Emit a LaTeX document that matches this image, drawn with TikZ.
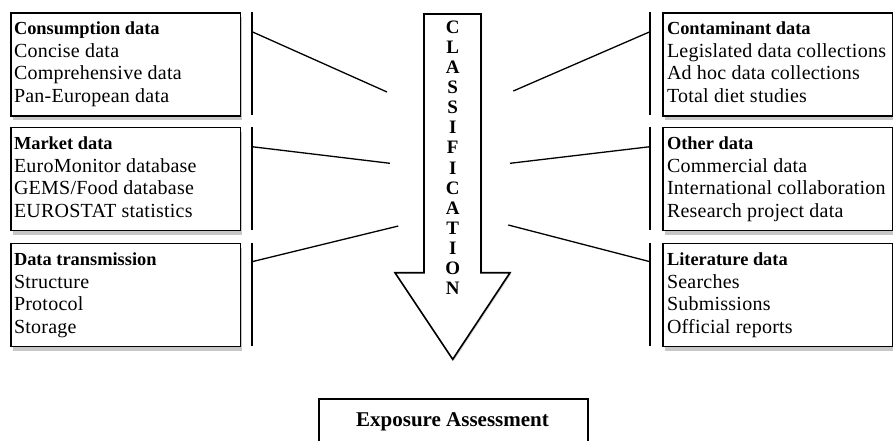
\documentclass[tikz,border=0pt]{standalone}
\usepackage{fontspec}
\setmainfont{Liberation Serif}[LetterSpace=1.2]
\newfontfamily\plainf{Liberation Serif}
\usetikzlibrary{shadows}
\tikzset{
  databox/.style={draw, line width=1.6pt, fill=white, anchor=north west,
    minimum width=229.5pt, minimum height=103pt, inner sep=0pt,
    drop shadow={shadow xshift=2pt, shadow yshift=-4.5pt, fill=black!22, opacity=1}},
  boxtext/.style={anchor=north west, align=left, inner sep=0pt,
    font=\fontsize{20}{22.5}\selectfont},
  bar/.style={line width=1.6pt},
  link/.style={line width=1.3pt},
  letter/.style={anchor=base, inner sep=0pt, font=\plainf\bfseries\fontsize{19}{19}\selectfont},
}
\newcommand{\hdr}[1]{{\plainf\bfseries\fontsize{18.4}{22.5}\selectfont #1}}
\begin{document}
\begin{tikzpicture}[x=1pt,y=-1pt]
\useasboundingbox (0,0) rectangle (893,440);
\clip (0,0) rectangle (893,440);
\fill[white] (0,0) rectangle (893,440);

% left boxes
\node[databox] (cons) at (10,12) {};
\node[databox] (mark) at (10,126.7) {};
\node[databox] (trans) at (10,242.7) {};
% right boxes
\node[databox, minimum width=230pt] (cont) at (662.3,12) {};
\node[databox, minimum width=230pt] (other) at (662.3,126.7) {};
\node[databox, minimum width=230pt] (lit) at (662.3,242.7) {};

\node[boxtext] (cons-t) at ([xshift=3.8pt, yshift=-10pt]cons.north west)
  {\hdr{Consumption data}\\Concise data\\Comprehensive data\\Pan-European data};
\node[boxtext] (mark-t) at ([xshift=3.8pt, yshift=-10pt]mark.north west)
  {\hdr{Market data}\\EuroMonitor database\\GEMS/Food database\\EUROSTAT statistics};
\node[boxtext] (trans-t) at ([xshift=3.8pt, yshift=-10pt]trans.north west)
  {\hdr{Data transmission}\\Structure\\Protocol\\Storage};
\node[boxtext] (cont-t) at ([xshift=4.5pt, yshift=-10pt]cont.north west)
  {\hdr{Contaminant data}\\Legislated data collections\\Ad hoc data collections\\Total diet studies};
\node[boxtext] (other-t) at ([xshift=4.5pt, yshift=-10pt]other.north west)
  {\hdr{Other data}\\Commercial data\\International collaboration\\Research project data};
\node[boxtext] (lit-t) at ([xshift=4.5pt, yshift=-10pt]lit.north west)
  {\hdr{Literature data}\\Searches\\Submissions\\Official reports};

% bars
\coordinate (lb1t) at (252,12);    \coordinate (lb1b) at (252,115);
\coordinate (lb2t) at (252,126.7); \coordinate (lb2b) at (252,230);
\coordinate (lb3t) at (252,242.7); \coordinate (lb3b) at (252,346);
\coordinate (rb1t) at (650,12);    \coordinate (rb1b) at (650,115);
\coordinate (rb2t) at (650,126.7); \coordinate (rb2b) at (650,230);
\coordinate (rb3t) at (650,242.7); \coordinate (rb3b) at (650,346);
\foreach \b in {lb1,lb2,lb3,rb1,rb2,rb3} \draw[bar] (\b t) -- (\b b);

% arrow
\draw[line width=1.6pt, fill=white,
  drop shadow={shadow xshift=1pt, shadow yshift=-1.5pt, fill=black!18, opacity=1}]
  (424,14) -- (481,14) -- (481,272.7) -- (510,272.7) -- (452.7,359.3)
  -- (395,272.7) -- (424,272.7) -- cycle;
\foreach \ch [count=\i from 0] in {C,L,A,S,S,I,F,I,C,A,T,I,O,N}
  \node[letter] (cls\i) at (452.7, 33.3+20.1*\i) {\ch};

% connectors
\coordinate (l1) at (252,31.7);  \coordinate (l1e) at (387,92);
\coordinate (l2) at (252,146.7); \coordinate (l2e) at (390,163.3);
\coordinate (l3) at (252,261.7); \coordinate (l3e) at (398.3,226);
\coordinate (r1) at (650,31.7);  \coordinate (r1e) at (513.3,91);
\coordinate (r2) at (650,146.7); \coordinate (r2e) at (510,163.3);
\coordinate (r3) at (650,261.7); \coordinate (r3e) at (508.3,225);
\foreach \c in {l1,l2,l3,r1,r2,r3} \draw[link] (\c) -- (\c e);

% exposure assessment
\node[draw, line width=1.6pt, anchor=north west, minimum width=269pt,
  minimum height=70pt, inner sep=0pt] (expo) at (318,398.3) {};
\node[anchor=base, inner sep=0pt, font=\plainf\bfseries\fontsize{21}{21}\selectfont]
  (expo-t) at (452.5,426.5) {Exposure Assessment};
\end{tikzpicture}
\end{document}
